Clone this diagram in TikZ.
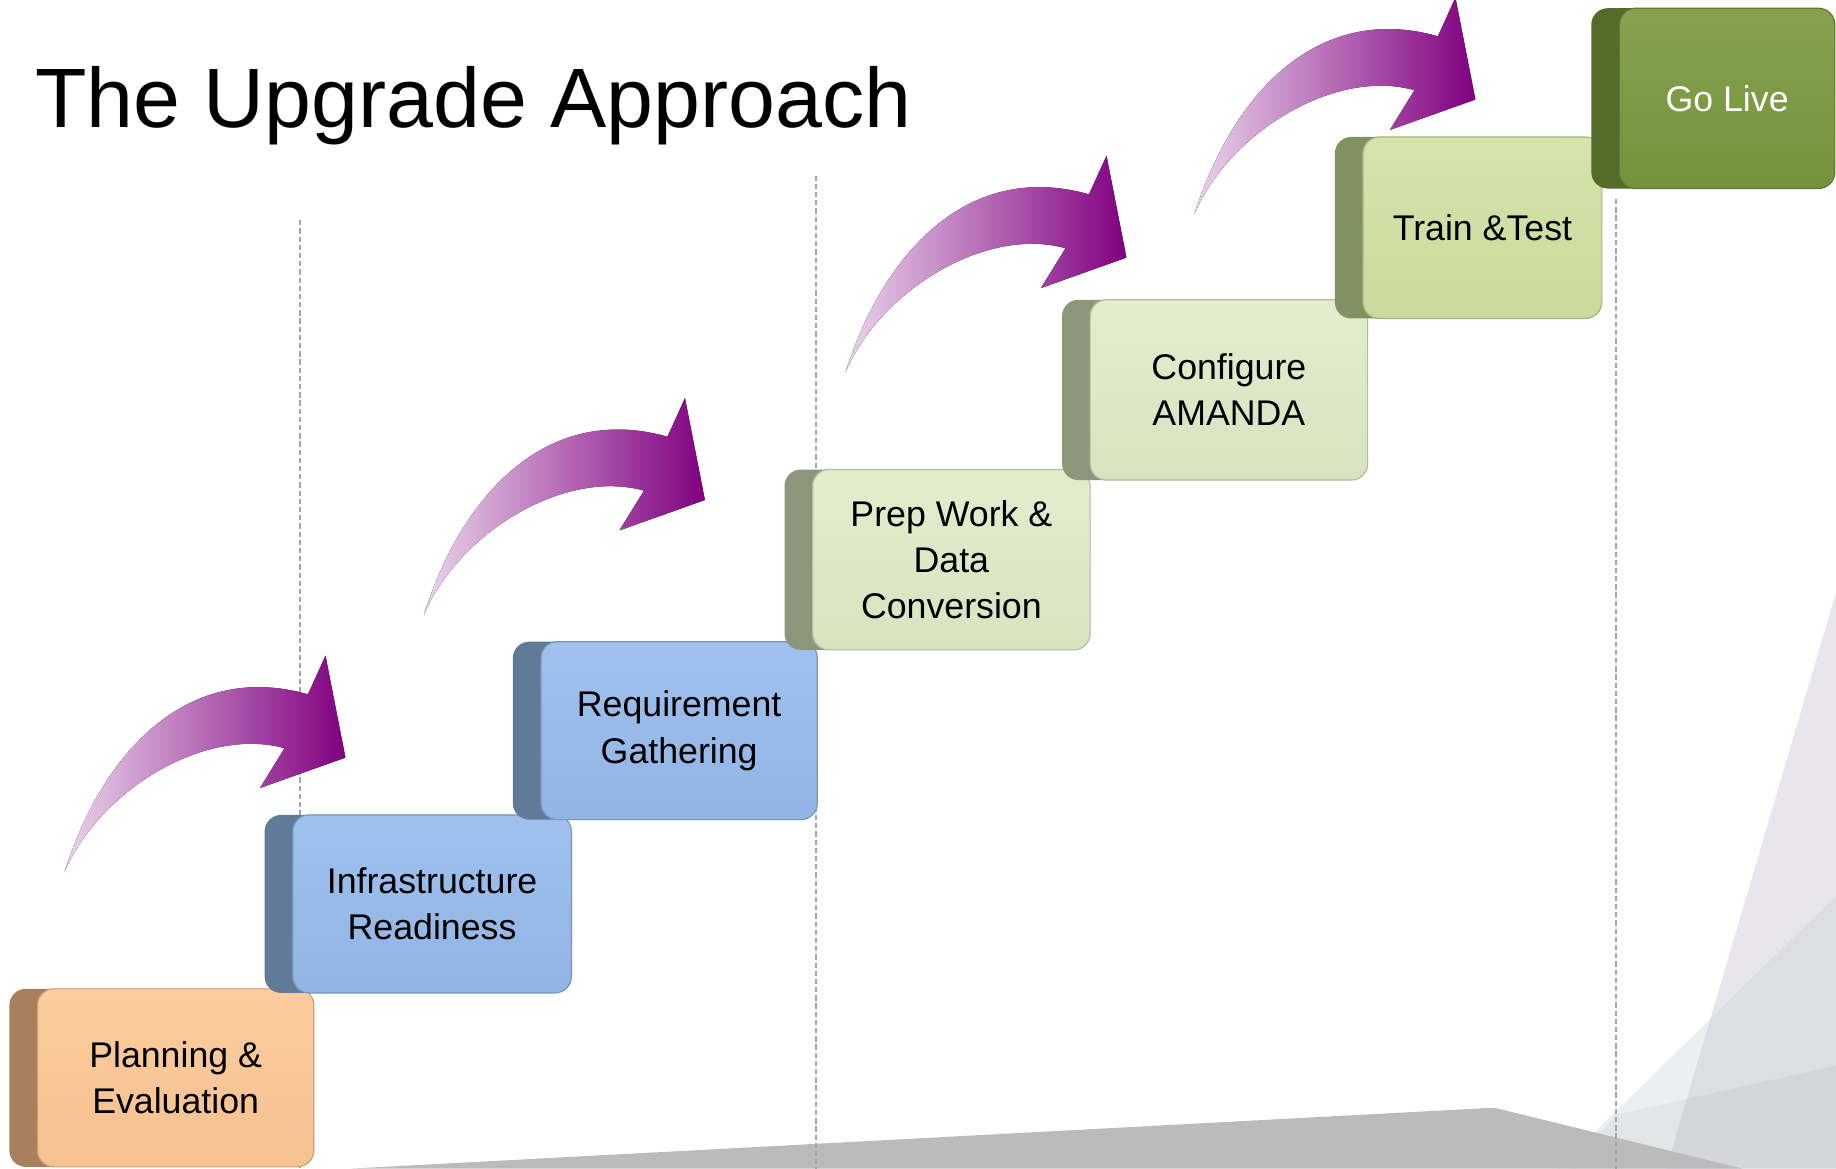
\documentclass[tikz,border=0pt]{standalone}
\usepackage{fontspec}
\setmainfont{Liberation Sans}
\usetikzlibrary{shadows}
\definecolor{orangeF}{RGB}{252,199,148}
\definecolor{orangeS}{RGB}{170,128,92}
\definecolor{blueF}{RGB}{149,186,236}
\definecolor{blueS}{RGB}{96,122,152}
\definecolor{paleF}{RGB}{222,235,198}
\definecolor{paleS}{RGB}{140,150,122}
\definecolor{trainF}{RGB}{207,225,162}
\definecolor{trainS}{RGB}{128,145,98}
\definecolor{liveF}{RGB}{120,151,60}
\definecolor{liveS}{RGB}{84,108,42}
\definecolor{arrowL}{RGB}{234,212,234}
\definecolor{arrowD}{RGB}{128,0,128}
\definecolor{guideGray}{RGB}{165,165,165}
\definecolor{floorGray}{RGB}{187,187,187}
\definecolor{triA}{RGB}{232,230,236}
\definecolor{triB}{RGB}{190,205,212}
\definecolor{triC}{RGB}{170,180,170}
\newcommand\upArrow[1]{%
  \fill[purplearrow, shift={#1}] (0,0) .. controls (35,-110) and (110,-180) .. (208,-152)
    -- (223,-185) -- (240,-98) -- (167,-72) -- (188,-106)
    .. controls (120,-125) and (30,-70) .. (0,0) -- cycle;}
\begin{document}
\begin{tikzpicture}[x=1pt,y=-1pt,
  stepbox/.style={rounded corners=14pt, minimum height=152pt, align=center,
    inner sep=0pt, font=\fontsize{30.5}{39.5}\selectfont, line width=1pt, text=black},
  face/.style={top color=#1!90!white, bottom color=#1!97!black, draw=#1!80!black},
  sideface/.style={general shadow={fill=#1, shadow xshift=-24pt, shadow yshift=0pt}},
  purplearrow/.style={left color=arrowL, right color=arrowD, draw=none},
  guide/.style={draw=guideGray, line width=1.3pt, dash pattern=on 4.5pt off 2.5pt},
]
\useasboundingbox (0,0) rectangle (1568,998);
\fill[white] (0,0) rectangle (1568,998);
% background wedges
\fill[triA] (1568,506) -- (1423,998) -- (1568,998) -- cycle;
\fill[triB, opacity=0.3] (1568,765) -- (1330,998) -- (1568,998) -- cycle;
\fill[triC, opacity=0.15] (1568,910) -- (1380,952) -- (1340,998) -- (1568,998) -- cycle;
% floor
\fill[floorGray] (300,998) -- (1276,946) -- (1488,998) -- cycle;
% guides
\coordinate (g1t) at (256,188); \coordinate (g1b) at (256,998);
\coordinate (g2t) at (697,150); \coordinate (g2b) at (697,998);
\coordinate (g3t) at (1380,170); \coordinate (g3b) at (1380,998);
\draw[guide] (g1t) -- (g1b);
\draw[guide] (g2t) -- (g2b);
\draw[guide] (g3t) -- (g3b);
% arrows
\upArrow{(55,745)}
\upArrow{(362,525)}
\upArrow{(722,318)}
\upArrow{(1020,183)}
% steps
\node[stepbox, sideface=orangeS, face=orangeF, minimum width=236pt]
  (plan) at (150,920.5) {Planning \&\\Evaluation};
\node[stepbox, sideface=blueS, face=blueF, minimum width=238pt]
  (infra) at (369,772) {Infrastructure\\Readiness};
\node[stepbox, sideface=blueS, face=blueF, minimum width=236pt]
  (req) at (580,624) {Requirement\\Gathering};
\node[stepbox, sideface=paleS, face=paleF, minimum width=237pt, minimum height=154pt]
  (prep) at (812.5,478) {Prep Work \&\\Data\\Conversion};
\node[stepbox, sideface=paleS, face=paleF, minimum width=237pt, minimum height=154pt]
  (conf) at (1049.5,333) {Configure\\AMANDA};
\node[stepbox, sideface=trainS, face=trainF, minimum width=204pt, minimum height=155pt]
  (train) at (1266,194.5) {Train \&Test};
\node[stepbox, sideface=liveS, face=liveF, minimum width=184pt, minimum height=154pt, text=white]
  (live) at (1475,84) {Go Live};
% title
\node[anchor=base west, inner sep=0pt, font=\fontsize{72}{80}\selectfont] (title) at (30,109) {The Upgrade Approach};
\end{tikzpicture}
\end{document}
